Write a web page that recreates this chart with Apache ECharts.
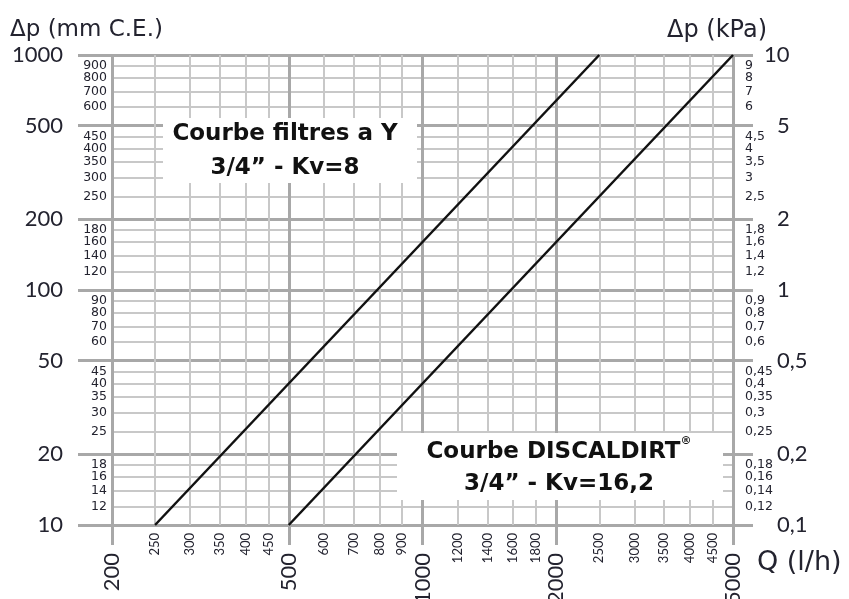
<!DOCTYPE html>
<html><head><meta charset="utf-8">
<script src="https://cdn.jsdelivr.net/npm/echarts@6/dist/echarts.min.js"></script>
<style>html,body{margin:0;padding:0;background:#fff;overflow:hidden}#c{width:849px;height:599px}</style>
</head><body><div id="c"></div>
<script>
// ---- data ----
const xMajor = [200, 500, 1000, 2000, 5000];
const xMinor = [250, 300, 350, 400, 450, 600, 700, 800, 900, 1200, 1400, 1600, 1800, 2500, 3000, 3500, 4000, 4500];
const yMajor = [10, 20, 50, 100, 200, 500, 1000];
const yMinor = [12, 14, 16, 18, 25, 30, 35, 40, 45, 60, 70, 80, 90, 120, 140, 160, 180, 250, 300, 350, 400, 450, 600, 700, 800, 900];
const kpaMajor = [0.1, 0.2, 0.5, 1, 2, 5];
const kpaTop = [10];
const kpaMinor = [0.12, 0.14, 0.16, 0.18, 0.25, 0.3, 0.35, 0.4, 0.45, 0.6, 0.7, 0.8, 0.9, 1.2, 1.4, 1.6, 1.8, 2.5, 3, 3.5, 4, 4.5, 6, 7, 8, 9];
const filtreY = [[250, 10], [2500, 1000]];       // Kv=8
const discaldirt = [[500, 10], [5000, 1000]];    // Kv=16,2

const FONT = 'Lato';
const WIDE = '"DejaVu Sans"';
const fmt = v => String(Math.round(v * 1000) / 1000).replace('.', ',');
const MAJ = '#a8a8a8', MIN = '#c8c8c8', TXT = '#23232f';
const evens = a => a.filter((v, i) => i % 2 === 0);
const odds = a => a.filter((v, i) => i % 2 === 1);

const chart = echarts.init(document.getElementById('c'));
function xAxisDef(vals, major) {
  return {
    type: 'log', logBase: 10, min: 200, max: 5000, position: 'bottom',
    axisLine: { show: false },
    axisTick: major ? { show: true, customValues: vals, length: 20, lineStyle: { color: MAJ, width: 3 } } : { show: false, customValues: vals },
    axisLabel: {
      customValues: vals, rotate: 90, hideOverlap: false, showMinLabel: true, showMaxLabel: true,
      margin: major ? 28 : 8, fontSize: major ? 22 : 13, color: TXT, fontFamily: FONT,
      formatter: fmt
    },
    splitLine: { show: true, lineStyle: { color: major ? MAJ : MIN, width: major ? 3 : 2 } },
    minorTick: { show: false }, minorSplitLine: { show: false }
  };
}
function yAxisDef(vals, major, right, kpa, margin, grid) {
  return {
    type: 'log', logBase: 10, min: kpa ? 0.1 : 10, max: kpa ? 10 : 1000, position: right ? 'right' : 'left',
    axisLine: { show: false },
    axisTick: major ? { show: true, customValues: vals, length: right ? 20 : 34, lineStyle: { color: MAJ, width: 3 } } : { show: false, customValues: vals },
    axisLabel: {
      customValues: vals, hideOverlap: false, showMinLabel: true, showMaxLabel: true,
      margin: margin,
      fontSize: major ? 22 : 12.5, color: TXT, fontFamily: major ? FONT : WIDE,
      formatter: fmt
    },
    splitLine: { show: grid, lineStyle: { color: major ? MAJ : MIN, width: major ? 3 : 2 } },
    minorTick: { show: false }, minorSplitLine: { show: false }
  };
}

chart.setOption({
  animation: false,
  grid: { left: 112, right: 116, top: 55, bottom: 74, containLabel: false, outerBoundsMode: 'none' },
  xAxis: [xAxisDef(xMajor, true), xAxisDef(xMinor, false)],
  yAxis: [yAxisDef(yMajor, true, false, false, 49, true),
          yAxisDef(evens(yMinor), false, false, false, 5, true),
          yAxisDef(odds(yMinor), false, false, false, 5, true),
          yAxisDef(kpaMajor, true, true, true, 44, false),
          yAxisDef(evens(kpaMinor), false, true, true, 12, false),
          yAxisDef(odds(kpaMinor), false, true, true, 12, false),
          yAxisDef(kpaTop, true, true, true, 31, false)],
  series: [
    { type: 'line', data: filtreY, xAxisIndex: 0, yAxisIndex: 0, symbol: 'none', z: 5,
      lineStyle: { color: '#111', width: 2.5 } },
    { type: 'line', data: discaldirt, xAxisIndex: 0, yAxisIndex: 0, symbol: 'none', z: 5,
      lineStyle: { color: '#111', width: 2.5 } }
  ],
  graphic: [
    { type: 'text', left: 10, top: 19, style: { text: 'Δp (mm C.E.)', font: '23px ' + WIDE, fill: TXT } },
    { type: 'text', left: 667, top: 19, style: { text: 'Δp (kPa)', font: '24px ' + WIDE, fill: TXT } },
    { type: 'text', left: 757, top: 549, style: { text: 'Q (l/h)', font: '27px ' + WIDE, fill: TXT } },
    { type: 'rect', z: 3, shape: { x: 163, y: 118, width: 254, height: 65 }, style: { fill: '#fff' } },
    { type: 'text', z: 4, x: 285, y: 151, style: { text: 'Courbe filtres a Y\n3/4” - Kv=8', align: 'center', verticalAlign: 'middle', lineHeight: 34,
      font: 'bold 23px ' + WIDE, fill: '#111' } },
    { type: 'rect', z: 3, shape: { x: 397, y: 433, width: 326, height: 67 }, style: { fill: '#fff' } },
    { type: 'text', z: 4, x: 559, y: 468, style: { text: 'Courbe DISCALDIRT{sup|®}\n3/4” - Kv=16,2', align: 'center', verticalAlign: 'middle', lineHeight: 32,
      font: 'bold 23px ' + WIDE, fill: '#111',
      rich: { sup: { font: 'bold 11px ' + WIDE, fill: '#111', verticalAlign: 'top', padding: [0, 0, 12, 0] } } } }
  ]
});
</script></body></html>
